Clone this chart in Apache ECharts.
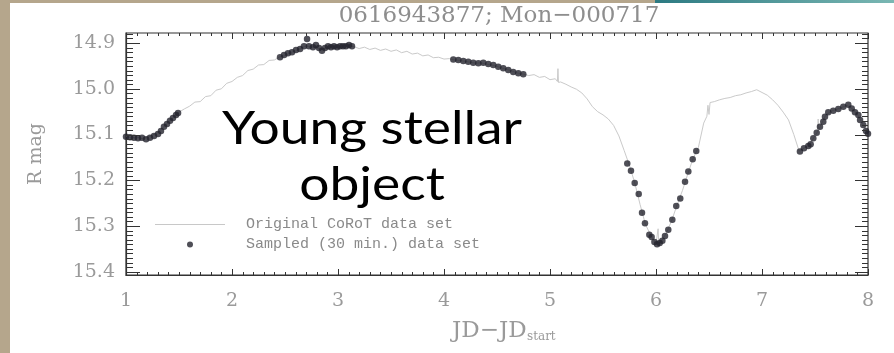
<!DOCTYPE html>
<html><head><meta charset="utf-8">
<script src="https://cdn.jsdelivr.net/npm/echarts@6/dist/echarts.min.js"></script>
<style>html,body{margin:0;padding:0;background:#fff}#c{width:894px;height:353px}</style>
</head><body><div id="c"></div>
<script>
// ---- Data ----
const chartTitle = '0616943877; Mon\u2212000717';
const xTickValues = [1, 2, 3, 4, 5, 6, 7, 8];
const yTickValues = [14.9, 15.0, 15.1, 15.2, 15.3, 15.4];

// Original CoRoT light curve (JD - JD_start, R mag)
const origTime = [1.00,1.05,1.10,1.15,1.20,1.25,1.30,1.35,1.40,1.45,1.50,1.55,1.60,1.65,1.70,1.75,1.80,1.85,1.90,1.95,
  2.00,2.05,2.10,2.15,2.20,2.25,2.30,2.35,2.40,2.45,2.50,2.55,2.60,2.65,2.70,2.75,2.80,2.85,2.90,2.95,
  3.00,3.05,3.10,3.15,3.20,3.25,3.30,3.35,3.40,3.45,3.50,3.55,3.60,3.65,3.70,3.75,3.80,3.85,3.90,3.95,
  4.00,4.05,4.10,4.15,4.20,4.25,4.30,4.35,4.40,4.45,4.50,4.55,4.60,4.65,4.70,4.75,4.80,4.85,4.90,4.95,
  5.00,5.05,5.07,5.075,5.08,5.10,5.15,5.20,5.25,5.30,5.35,5.40,5.45,5.50,5.55,5.60,5.65,5.70,5.75,5.80,5.85,5.90,5.95,
  6.00,6.015,6.02,6.025,6.05,6.10,6.15,6.20,6.25,6.30,6.35,6.40,6.45,6.48,6.49,6.50,6.51,6.55,6.60,6.65,6.70,6.75,6.80,6.85,6.90,6.95,
  7.00,7.05,7.10,7.15,7.20,7.25,7.30,7.35,7.40,7.45,7.50,7.525,7.53,7.535,7.55,7.60,7.65,7.70,7.75,7.80,7.85,7.90,7.95,8.00];
const origMag = [15.104,15.108,15.105,15.109,15.106,15.101,15.096,15.084,15.073,15.062,15.051,15.044,15.038,15.029,15.028,15.017,15.015,15.003,15.000,14.988,
  14.984,14.975,14.971,14.960,14.957,14.948,14.947,14.938,14.937,14.930,14.927,14.921,14.917,14.911,14.906,14.909,14.911,14.914,14.909,14.907,
  14.909,14.906,14.906,14.908,14.912,14.909,14.914,14.911,14.916,14.913,14.918,14.915,14.921,14.918,14.924,14.922,14.928,14.926,14.932,14.931,
  14.935,14.934,14.937,14.938,14.940,14.942,14.944,14.943,14.946,14.948,14.951,14.955,14.958,14.962,14.966,14.968,14.971,14.969,14.975,14.973,
  14.980,14.978,14.984,14.956,14.986,14.985,14.990,14.996,15.001,15.009,15.022,15.039,15.050,15.057,15.066,15.080,15.103,15.135,15.168,15.206,15.253,15.296,15.320,
  15.338,15.339,15.306,15.338,15.334,15.314,15.287,15.253,15.222,15.186,15.152,15.128,15.075,15.060,15.036,15.056,15.030,15.028,15.024,15.021,15.019,15.015,15.013,15.009,15.006,15.002,
  15.008,15.014,15.024,15.036,15.051,15.068,15.100,15.136,15.129,15.122,15.102,15.094,15.066,15.090,15.082,15.058,15.049,15.045,15.041,15.036,15.043,15.056,15.077,15.094];

// Sampled (30 min.) data set
const sampTime = [1.000,1.038,1.075,1.113,1.151,1.189,1.226,1.264,1.302,1.330,1.358,1.387,1.415,1.443,1.472,1.491,
  2.453,2.491,2.528,2.566,2.604,2.642,2.679,2.708,2.726,2.764,2.792,2.821,2.849,2.877,2.906,2.934,2.962,2.991,3.019,3.047,3.075,3.104,3.132,
  4.088,4.135,4.182,4.229,4.276,4.324,4.371,4.418,4.465,4.512,4.559,4.606,4.653,4.701,4.748,
  5.729,5.764,5.799,5.837,5.868,5.896,5.937,5.959,5.985,6.010,6.035,6.060,6.085,6.116,6.154,6.191,6.229,6.274,6.305,6.346,6.380,
  7.358,7.396,7.437,7.459,7.484,7.516,7.547,7.578,7.594,7.625,7.672,7.720,7.767,7.814,7.846,7.877,7.909,7.925,7.955,7.981,8.000];
const sampMag = [15.105,15.106,15.107,15.108,15.107,15.110,15.107,15.103,15.099,15.092,15.083,15.077,15.070,15.064,15.057,15.053,
  14.931,14.926,14.922,14.920,14.915,14.913,14.907,14.891,14.907,14.909,14.904,14.911,14.917,14.911,14.907,14.909,14.907,14.909,14.907,14.907,14.907,14.904,14.907,
  14.936,14.937,14.939,14.941,14.943,14.944,14.943,14.946,14.948,14.952,14.955,14.959,14.963,14.966,14.968,
  15.163,15.179,15.206,15.230,15.271,15.294,15.319,15.324,15.335,15.340,15.337,15.332,15.322,15.308,15.286,15.256,15.240,15.203,15.181,15.154,15.136,
  15.137,15.130,15.125,15.121,15.108,15.096,15.083,15.072,15.061,15.051,15.048,15.044,15.039,15.035,15.043,15.051,15.057,15.068,15.079,15.092,15.098];

// ---- Chart ----
const axisColor = '#333333';
const labelColor = '#9a9a9a';
const serif = 'DejaVu Serif';
const xMin = 1, xMax = 8;
const yMin = 14.878, yMax = 15.407;           // visible range of the plot box
const plotTop = 33, plotBottomPx = 275, H = 353;
const pxPerMag = (plotBottomPx - plotTop) / (yMax - yMin);
const yPx = v => plotTop + (v - yMin) * pxPerMag;

// minor tick positions (axis decoration, every 0.01 mag and 0.1 day)
const yMinorValues = [];
for (let k = 1488; k <= 1540; k++) yMinorValues.push(k / 100);
const xMinorValues = [];
for (let k = 10; k <= 80; k++) xMinorValues.push(k / 10);

// Inward IDL-style ticks on all four sides, placed through the axes' own scales
const tickSeries = (values, orient, lenA, lenB) => ({
  type: 'custom', xAxisIndex: 0, yAxisIndex: 0, silent: true, z: 4, clip: false,
  data: values.map(v => orient === 'y' ? [xMin, v] : [v, yMax]),
  renderItem: (params, api) => {
    const st = { stroke: axisColor, lineWidth: 1, fill: null };
    if (orient === 'y') {
      const v = api.value(1);
      const a = api.coord([xMin, v]), b = api.coord([xMax, v]);
      const y = Math.round(a[1]) + 0.5;
      return { type: 'group', children: [
        { type: 'line', shape: { x1: a[0], y1: y, x2: a[0] + lenA, y2: y }, style: st },
        { type: 'line', shape: { x1: b[0], y1: y, x2: b[0] - lenB, y2: y }, style: st }
      ] };
    }
    const v = api.value(0);
    const a = api.coord([v, yMax]), b = api.coord([v, yMin]);
    const x = Math.round(a[0]) + 0.5;
    return { type: 'group', children: [
      { type: 'line', shape: { x1: x, y1: a[1], x2: x, y2: a[1] - lenA }, style: st },
      { type: 'line', shape: { x1: x, y1: b[1], x2: x, y2: b[1] + lenB }, style: st }
    ] };
  }
});

const chart = echarts.init(document.getElementById('c'));
chart.setOption({
  backgroundColor: '#ffffff',
  animation: false,
  title: {
    text: chartTitle, left: 494, top: 0, textAlign: 'center',
    textStyle: { fontFamily: serif, fontSize: 23, fontWeight: 'normal', color: '#8e8e8e' }
  },
  grid: [
    { left: 126, right: 26, top: plotTop, bottom: H - plotBottomPx,
      show: true, borderColor: axisColor, borderWidth: 1.2, backgroundColor: 'transparent' },
    { left: 126, right: 26, top: yPx(14.9), bottom: H - yPx(15.4) }
  ],
  xAxis: [
    {
      type: 'value', gridIndex: 0, position: 'bottom', min: xMin, max: xMax, interval: 1,
      splitLine: { show: false },
      axisLine: { show: true, onZero: false, lineStyle: { color: axisColor, width: 1.2 } },
      axisTick: { show: false }, minorTick: { show: false },
      axisLabel: { show: true, color: labelColor, fontFamily: serif, fontSize: 19, margin: 17 }
    },
    { type: 'value', gridIndex: 1, min: xMin, max: xMax, show: false }
  ],
  yAxis: [
    {
      type: 'value', gridIndex: 0, position: 'left', min: yMin, max: yMax, inverse: true,
      splitLine: { show: false },
      axisLine: { show: true, onZero: false, lineStyle: { color: axisColor, width: 1.2 } },
      axisTick: { show: false }, axisLabel: { show: false },
      name: 'R mag', nameLocation: 'middle', nameGap: 80, nameRotate: 90,
      nameTextStyle: { color: labelColor, fontFamily: serif, fontSize: 19 }
    },
    {
      type: 'value', gridIndex: 1, position: 'left', min: 14.9, max: 15.4, interval: 0.1, inverse: true,
      splitLine: { show: false }, axisLine: { show: false }, axisTick: { show: false },
      axisLabel: { show: true, formatter: v => v.toFixed(1), color: labelColor, fontFamily: serif, fontSize: 19, margin: 11 }
    }
  ],
  legend: {
    orient: 'vertical', left: 155, top: 217, padding: 0, itemGap: 5,
    itemWidth: 70, itemHeight: 6, symbolKeepAspect: true,
    textStyle: { fontFamily: 'Liberation Mono', fontSize: 15, color: '#8a8a8a', padding: [0, 0, 0, 16] },
    data: [
      { name: 'Original CoRoT data set', icon: 'path://M0,0h70v1h-70z' },
      { name: 'Sampled (30 min.) data set', icon: 'circle' }
    ]
  },
  series: [
    {
      name: 'Original CoRoT data set', type: 'line', xAxisIndex: 0, yAxisIndex: 0,
      data: origTime.map((t, i) => [t, origMag[i]]),
      symbol: 'none', showSymbol: false,
      lineStyle: { color: '#cacaca', width: 1 }, itemStyle: { color: '#c8c8c8' }, z: 2
    },
    {
      name: 'Sampled (30 min.) data set', type: 'scatter', xAxisIndex: 0, yAxisIndex: 0,
      data: sampTime.map((t, i) => [t, sampMag[i]]),
      symbol: 'circle', symbolSize: 6.5, clip: false,
      itemStyle: { color: '#23232d' }, z: 3
    },
    tickSeries(yTickValues, 'y', 14, 13),
    tickSeries(yMinorValues, 'y', 7, 6),
    tickSeries(xTickValues, 'x', 6, 6),
    tickSeries(xMinorValues, 'x', 3, 3)
  ],
  graphic: [
    { type: 'rect', z: -10, silent: true, shape: { x: 0, y: 0, width: 10, height: 353 }, style: { fill: '#b5a68c' } },
    { type: 'rect', z: -10, silent: true, shape: { x: 10, y: 0, width: 645, height: 3 }, style: { fill: '#b5a68c' } },
    { type: 'rect', z: -10, silent: true, shape: { x: 655, y: 0, width: 239, height: 3 },
      style: { fill: new echarts.graphic.LinearGradient(0, 0, 1, 0, [{ offset: 0, color: '#2c7a82' }, { offset: 1, color: '#7ab7b3' }]) } },
    { type: 'text', z: 50, silent: true, x: 452, y: 331,
      style: { text: 'JD\u2212JD', x: 0, y: 0, align: 'left', verticalAlign: 'middle', fontFamily: serif, fontSize: 23, fill: labelColor } },
    { type: 'text', z: 50, silent: true, x: 527, y: 337,
      style: { text: 'start', x: 0, y: 0, align: 'left', verticalAlign: 'middle', fontFamily: serif, fontSize: 12, fill: labelColor } },
    { type: 'text', z: 100, silent: true, x: 372, y: 157, scaleX: 1.16, scaleY: 1,
      style: { text: 'Young stellar\nobject', x: 0, y: 0, align: 'center', verticalAlign: 'middle',
        fontFamily: 'Lato', fontSize: 46, lineHeight: 56, fill: '#000000' } }
  ]
});
</script></body></html>
